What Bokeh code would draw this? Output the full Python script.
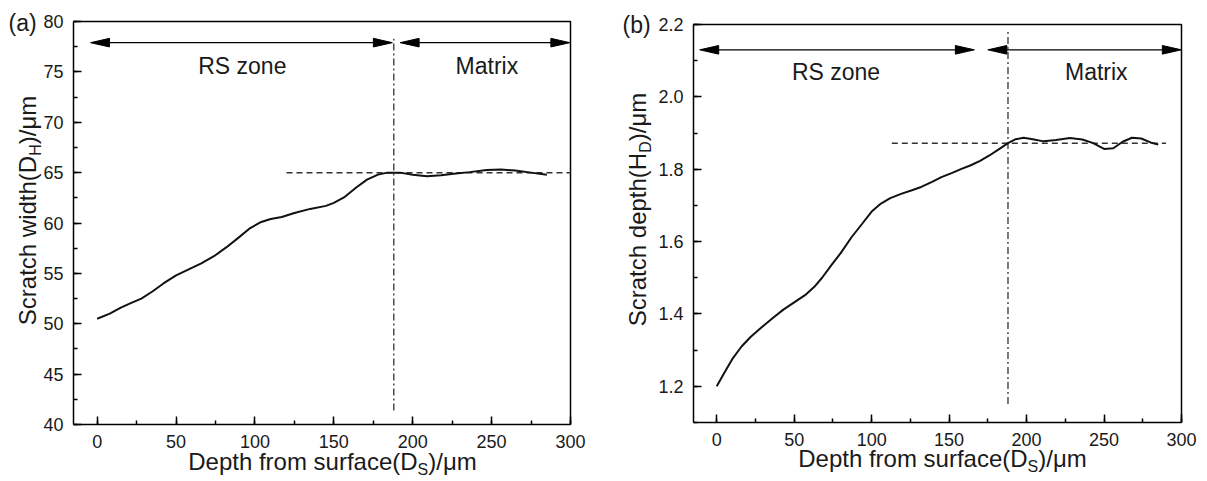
import math
from bokeh.plotting import figure
from bokeh.layouts import row
from bokeh.models import Label, Range1d, SingleIntervalTicker, NumeralTickFormatter
from bokeh.embed import file_html
from bokeh.resources import INLINE

# ---------------- data ----------------
depth_a = [0, 8, 15, 22, 28, 35, 42, 50, 58, 66, 74, 82, 90, 97, 104, 110, 117, 125, 135, 145,
           150, 157, 164, 171, 178, 184, 192, 200, 209, 218, 226, 236, 247, 256, 265, 275, 285]
width_a = [50.5, 51.0, 51.6, 52.1, 52.5, 53.2, 54.0, 54.8, 55.4, 56.0, 56.7, 57.6, 58.6, 59.5, 60.1, 60.4, 60.6, 61.0, 61.4, 61.7,
           62.0, 62.6, 63.5, 64.3, 64.8, 65.0, 65.0, 64.8, 64.65, 64.75, 64.9, 65.05, 65.25, 65.3, 65.2, 65.0, 64.8]

depth_b = [0, 5, 10, 16, 22, 29, 36, 43, 50, 57, 63, 68, 74, 80, 87, 94, 100, 106, 112, 119,
           126, 132, 139, 145, 152, 158, 164, 170, 176, 182, 188, 193, 198, 204, 211, 219, 228, 236, 243, 250,
           256, 262, 268, 274, 280, 285]
sdepth_b = [1.20, 1.238, 1.275, 1.31, 1.337, 1.363, 1.388, 1.412, 1.432, 1.452, 1.475, 1.50, 1.535, 1.568, 1.612, 1.65, 1.683, 1.705, 1.72, 1.732,
            1.742, 1.751, 1.765, 1.778, 1.79, 1.801, 1.811, 1.823, 1.838, 1.855, 1.872, 1.883, 1.887, 1.883, 1.877, 1.881, 1.886, 1.882, 1.872, 1.856,
            1.858, 1.876, 1.887, 1.885, 1.874, 1.868]

x_lim = (-15, 300)
y_lim_a = (40, 80)
y_lim_b = (1.1, 2.2)

plateau_a = 65.0
plateau_a_x = [120, 300]
boundary_a = 188
boundary_a_y = [41.4, 78.3]
arrow_y_a = 77.9
arrows_a = [(-4.2, 187.1), (192, 299.6)]
zones_a = [("RS zone", 92, 74.9), ("Matrix", 247, 74.9)]

plateau_b = 1.872
plateau_b_x = [113, 290]
boundary_b = 188
boundary_b_y = [1.151, 2.179]
arrow_y_b = 2.13
arrows_b = [(-11, 166.3), (175, 299.9)]
zones_b = [("RS zone", 77, 2.047), ("Matrix", 245, 2.047)]

FONT = "Liberation Sans"
INK = "#1a1a1a"
BASE_K = 0.32   # renderer places the alphabetic anchor this fraction of an em too low
AW = {' ': 278, '(': 333, ')': 333, '/': 278, 'D': 722, 'H': 722, 'S': 667, 'a': 556, 'c': 500,
      'd': 556, 'e': 556, 'f': 278, 'h': 556, 'i': 222, 'm': 833, 'o': 556, 'p': 556, 'r': 333,
      's': 500, 't': 278, 'u': 556, 'w': 722, 'μ': 576}


def tw(s, size):
    return sum(AW.get(ch, 556) for ch in s) * size / 1000.0


class Panel:
    def __init__(self, W, H, box, xr, yr, y_interval, y_fmt=None):
        L, T, R, B = box
        self.ppx = (R - L) / (xr[1] - xr[0])
        self.ppy = (B - T) / (yr[1] - yr[0])
        self.x_start = xr[0] - L / self.ppx
        x_end = xr[1] + (W - R) / self.ppx
        self.y_end = yr[1] + T / self.ppy
        y_start = yr[0] - (H - B) / self.ppy
        p = figure(width=W, height=H, x_range=Range1d(self.x_start, x_end),
                   y_range=Range1d(y_start, self.y_end),
                   output_backend="svg", toolbar_location=None, min_border=0)
        p.title.visible = False
        p.outline_line_color = None
        p.xgrid.visible = False
        p.ygrid.visible = False
        p.xaxis.fixed_location = yr[0]
        p.yaxis.fixed_location = xr[0]
        p.xaxis.bounds = xr
        p.yaxis.bounds = yr
        p.xaxis.ticker = SingleIntervalTicker(interval=50, num_minor_ticks=2)
        p.yaxis.ticker = SingleIntervalTicker(interval=y_interval, num_minor_ticks=2)
        if y_fmt:
            p.yaxis.formatter = NumeralTickFormatter(format=y_fmt)
        for ax in (p.xaxis[0], p.yaxis[0]):
            ax.axis_line_width = 1.5
            ax.axis_line_color = "black"
            ax.major_tick_in = 8
            ax.major_tick_out = 0
            ax.minor_tick_in = 4
            ax.minor_tick_out = 0
            ax.major_tick_line_width = 1.5
            ax.minor_tick_line_width = 1.5
            ax.major_tick_line_color = "black"
            ax.minor_tick_line_color = "black"
            ax.major_label_text_font = FONT
            ax.major_label_text_font_size = "18px"
            ax.major_label_text_color = INK
            ax.major_label_standoff = 10
        # top and right edges of the plot box
        p.line([xr[0], xr[1], xr[1]], [yr[1], yr[1], yr[0]], line_color="black", line_width=1.5)
        self.p = p

    def d(self, sx, sy):
        return self.x_start + sx / self.ppx, self.y_end - sy / self.ppy

    def text(self, t, sx, sy, size, align="left", angle=0.0):
        if angle == 0:
            sy = sy - BASE_K * size
        else:
            sx = sx - BASE_K * size
        x, y = self.d(sx, sy)
        self.p.add_layout(Label(x=x, y=y, text=t, text_font=FONT, text_font_size=f"{size}px",
                                text_color=INK, text_align=align, text_baseline="alphabetic", angle=angle))

    def x_title(self, main, sub, cx, base, size=24, ssize=16):
        w1 = tw(main, size); w2 = tw(sub, ssize); w3 = tw(")/μm", size)
        left = cx - (w1 + w2 + w3) / 2
        self.text(main, left + w1, base, size, align="right")
        self.text(sub, left + w1, base + 5, ssize, align="left")
        self.text(")/μm", left + w1 + w2, base, size, align="left")

    def y_title(self, main, sub, cy, base, size=24, ssize=16):
        w1 = tw(main, size); w2 = tw(sub, ssize); w3 = tw(")/μm", size)
        bottom = cy + (w1 + w2 + w3) / 2
        a = math.pi / 2
        self.text(main, base, bottom - w1, size, align="right", angle=a)
        self.text(sub, base + 5, bottom - w1, ssize, align="left", angle=a)
        self.text(")/μm", base, bottom - w1 - w2, size, align="left", angle=a)

    def decorate(self, arrows, ay, plateau, px, boundary, by, zones):
        p = self.p
        L = 19 / self.ppx
        hw = 4.3 / self.ppy
        for x0, x1 in arrows:
            p.line([x0 + L * 0.5, x1 - L * 0.5], [ay, ay], line_color="black", line_width=1.3)
            p.patches([[x0, x0 + L, x0 + L], [x1, x1 - L, x1 - L]],
                      [[ay, ay + hw, ay - hw], [ay, ay + hw, ay - hw]],
                      fill_color="black", line_color="black", line_width=1)
        p.line(px, [plateau, plateau], line_color="#333333", line_width=1.5, line_dash="6 4")
        p.line([boundary, boundary], by, line_color="#333333", line_width=1.3, line_dash="7 3 2 3")
        for t, x, y in zones:
            sx = (x - self.x_start) * self.ppx
            sy = (self.y_end - y) * self.ppy
            self.text(t, sx, sy, 23, align="center")


H = 480
# ---------------- panel (a): canvas x 0..600 ----------------
A = Panel(600, H, (73, 21, 570, 424), x_lim, y_lim_a, 5)
A.decorate(arrows_a, arrow_y_a, plateau_a, plateau_a_x, boundary_a, boundary_a_y, zones_a)
A.p.line(depth_a, width_a, line_color="#111111", line_width=2)
A.text("(a)", 8, 30, 23)
A.x_title("Depth from surface(D", "S", 332, 469)
A.y_title("Scratch width(D", "H", 210, 35)

# ---------------- panel (b): canvas x 600..1206 ----------------
OX = 600
B = Panel(606, H, (693 - OX, 24, 1181 - OX, 422), x_lim, y_lim_b, 0.2, "0.0")
B.decorate(arrows_b, arrow_y_b, plateau_b, plateau_b_x, boundary_b, boundary_b_y, zones_b)
B.p.line(depth_b, sdepth_b, line_color="#111111", line_width=2)
B.text("(b)", 622 - OX, 32, 23)
B.x_title("Depth from surface(D", "S", 942 - OX, 466)
B.y_title("Scratch depth(H", "D", 209, 645 - OX)

layout = row(A.p, B.p)
open("out.html", "w").write(file_html(layout, INLINE))
